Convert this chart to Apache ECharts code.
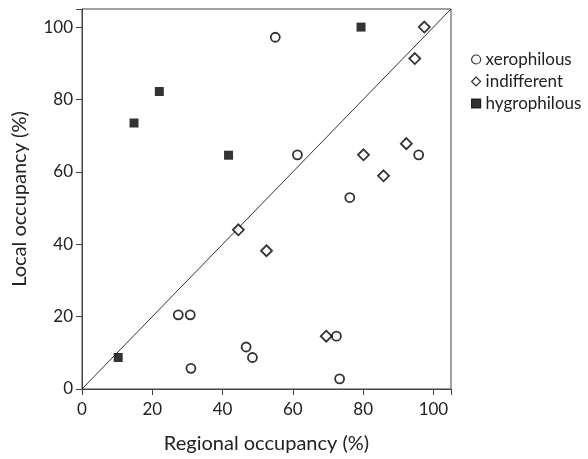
<!DOCTYPE html>
<html><head><meta charset="utf-8">
<script src="https://cdn.jsdelivr.net/npm/echarts@6/dist/echarts.min.js"></script>
<style>html,body{margin:0;padding:0;background:#fff}#c{width:588px;height:459px}</style>
</head><body><div id="c"></div>
<script>
const xerophilous = [[55.0,97.2],[61.3,64.7],[95.8,64.7],[76.2,52.9],[27.4,20.5],[30.8,20.5],[31.0,5.7],[46.7,11.6],[48.5,8.7],[72.4,14.6],[73.3,2.8]];
const indifferent = [[97.4,100],[94.7,91.3],[92.3,67.8],[80.1,64.7],[85.8,58.9],[44.5,44.0],[52.5,38.2],[69.5,14.6]];
const hygrophilous = [[14.8,73.5],[22.0,82.2],[41.7,64.6],[79.4,100],[10.3,8.7]];
const diagonal = [[0,0],[105,105]];
const axisTicks = [0,20,40,60,80,100];
const seriesNames = ['xerophilous','indifferent','hygrophilous'];

const font = 'Lato';
const chart = echarts.init(document.getElementById('c'), null, {renderer:'canvas'});
const axisCommon = {
  min: 0, max: 105, interval: 20,
  axisLine: {show:true, lineStyle:{color:'#444', width:1}},
  axisTick: {show:true, length:6, lineStyle:{color:'#444'}},
  splitLine: {show:false},
  nameLocation: 'middle',
  nameTextStyle: {fontFamily: font, fontSize: 20, color:'#222'},
  axisLabel: {fontFamily: font, fontSize: 17, color:'#222',
    formatter: v => axisTicks.includes(v) ? String(v) : ''}
};
chart.setOption({
  animation: false,
  grid: {left: 82, top: 9, width: 369, height: 386, show: true, borderColor:'#444', borderWidth:1, containLabel:false},
  xAxis: Object.assign({}, axisCommon, {type:'value', name:'Regional occupancy (%)', nameGap: 45,
    axisLabel: Object.assign({}, axisCommon.axisLabel, {margin: 12})}),
  yAxis: Object.assign({}, axisCommon, {type:'value', name:'Local occupancy (%)', nameGap: 52,
    axisLabel: Object.assign({}, axisCommon.axisLabel, {margin: 9})}),
  legend: {
    orient:'vertical', left: 466, top: 46, itemGap: 5, itemWidth: 9, itemHeight: 9,
    data: seriesNames,
    itemStyle: {borderWidth: 1.2},
    textStyle: {fontFamily: font, fontSize: 17, color:'#222'}
  },
  series: [
    {type:'line', data: diagonal, symbol:'none', lineStyle:{color:'#333', width:1}, silent:true, z:1},
    {name: seriesNames[0], type:'scatter', data: xerophilous, symbol:'circle', symbolSize: 9,
     itemStyle:{color:'#fff', borderColor:'#000', borderWidth:1.8}, z:3},
    {name: seriesNames[1], type:'scatter', data: indifferent, symbol:'diamond', symbolSize: 11,
     itemStyle:{color:'#fff', borderColor:'#000', borderWidth:1.8}, z:3},
    {name: seriesNames[2], type:'scatter', data: hygrophilous, symbol:'rect', symbolSize: 9,
     itemStyle:{color:'#000', borderColor:'#000', borderWidth:0}, z:3}
  ]
});
</script></body></html>
